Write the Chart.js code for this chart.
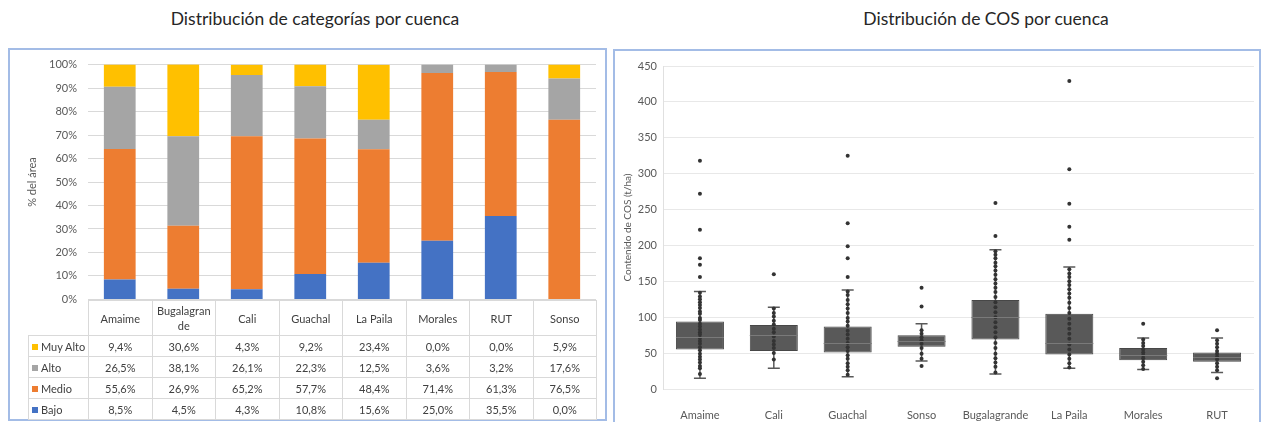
<!DOCTYPE html>
<html>
<head>
<meta charset="utf-8">
<script src="https://cdn.jsdelivr.net/npm/chart.js@4/dist/chart.umd.min.js"></script>
<style>
  body { margin: 0; width: 1262px; height: 422px; background: #fff; position: relative; overflow: hidden; font-family: Lato, sans-serif; }
  .title { position: absolute; top: 8px; width: 420px; text-align: center; font-size: 17.5px; color: #262626; }
  .panel { position: absolute; border: 2px solid #a3bce6; box-sizing: border-box; }
  .wrap { position: absolute; }
  #tabla { position: absolute; left: 28px; top: 300px; border-collapse: collapse; table-layout: fixed; font-size: 11px; color: #404040; }
  #tabla td { border: 1px solid #d9d9d9; text-align: center; padding: 0; height: 20px; }
  #tabla tr.head td { height: 34px; line-height: 15px; overflow-wrap: anywhere; }
  #tabla td.blank { border: none; }
  #tabla td.serie { text-align: left; padding-left: 3px; white-space: nowrap; }
  .sq { display: inline-block; width: 6px; height: 6px; margin-right: 3px; vertical-align: 1px; }
</style>
</head>
<body>
<div class="title" style="left:105px">Distribución de categorías por cuenca</div>
<div class="title" style="left:776px">Distribución de COS por cuenca</div>

<div class="panel" style="left:8px;top:48px;width:599px;height:373px"></div>
<div class="panel" style="left:613px;top:49px;width:648px;height:390px"></div>

<div class="wrap" style="left:11px;top:47px;width:594px;height:270px"><canvas id="catChart"></canvas></div>
<table id="tabla"></table>

<div class="wrap" style="left:615px;top:51px;width:644px;height:371px"><canvas id="cosChart"></canvas></div>

<script>
// --- Distribución de categorías (% del área) ---
const cuencasCat = ['Amaime', 'Bugalagrande', 'Cali', 'Guachal', 'La Paila', 'Morales', 'RUT', 'Sonso'];
const muyAlto = [9.4, 30.6, 4.3, 9.2, 23.4, 0.0, 0.0, 5.9];
const alto    = [26.5, 38.1, 26.1, 22.3, 12.5, 3.6, 3.2, 17.6];
const medio   = [55.6, 26.9, 65.2, 57.7, 48.4, 71.4, 61.3, 76.5];
const bajo    = [8.5, 4.5, 4.3, 10.8, 15.6, 25.0, 35.5, 0.0];
const pctTicks = [0, 10, 20, 30, 40, 50, 60, 70, 80, 90, 100];

// --- Distribución de COS (t/ha) ---
const cuencasCos = ['Amaime', 'Cali', 'Guachal', 'Sonso', 'Bugalagrande', 'La Paila', 'Morales', 'RUT'];
const q1        = [55, 53, 51, 59, 69, 48, 40, 38];
const q3        = [94, 89, 87, 75, 124, 105, 57, 51];
const mediana   = [72, 75, 64, 67, 100, 64, 48, 44];
const bigoteMin = [15, 29, 17, 39, 21, 29, 27, 23];
const bigoteMax = [136, 114, 138, 91, 194, 170, 71, 71];

// puntos individuales (atípicos + puntos internos)
const puntosAmaime = [318, 272, 222, 182, 173, 156, 134, 129, 125, 121, 117, 113, 108, 105, 99, 96, 91, 87, 83, 79, 76, 71, 67, 63, 58, 54, 49, 45, 41, 37, 32, 29, 21];
const puntosCali = [160, 112, 106, 101, 95, 90, 84, 79, 73, 67, 62, 57, 50, 41];
const puntosGuachal = [325, 231, 199, 182, 156, 136, 131, 124, 118, 112, 106, 99, 94, 88, 81, 76, 70, 64, 58, 53, 47, 42, 36, 31, 26, 20];
const puntosSonso = [141, 115, 82, 77, 72, 68, 63, 57, 49, 42, 32];
const puntosBugalagrande = [259, 213, 192, 187, 182, 176, 171, 165, 159, 153, 147, 141, 135, 128, 121, 114, 107, 100, 93, 86, 79, 72, 64, 57, 49, 43, 37, 31, 23];
const puntosLaPaila = [429, 306, 258, 226, 208, 167, 161, 156, 150, 145, 139, 133, 127, 120, 113, 106, 98, 91, 84, 77, 70, 62, 55, 48, 42, 36, 30];
const puntosMorales = [91, 69, 64, 60, 55, 51, 47, 43, 38, 33, 28];
const puntosRUT = [82, 68, 63, 58, 53, 49, 45, 41, 36, 31, 26, 15];
const cosTicks = [0, 50, 100, 150, 200, 250, 300, 350, 400, 450];

const colores = { muyAlto: '#ffc000', alto: '#a5a5a5', medio: '#ed7d31', bajo: '#4472c4' };
const tickColor = '#595959';

Chart.defaults.font.family = "Lato, sans-serif";
Chart.defaults.color = tickColor;

new Chart(document.getElementById('catChart'), {
  type: 'bar',
  data: {
    labels: cuencasCat,
    datasets: [
      { label: 'Bajo', data: bajo, backgroundColor: colores.bajo },
      { label: 'Medio', data: medio, backgroundColor: colores.medio },
      { label: 'Alto', data: alto, backgroundColor: colores.alto },
      { label: 'Muy Alto', data: muyAlto, backgroundColor: colores.muyAlto }
    ]
  },
  options: {
    responsive: true,
    maintainAspectRatio: false,
    animation: false,
    layout: { padding: { top: 7, right: 9, bottom: 5, left: 0 } },
    datasets: { bar: { categoryPercentage: 1, barPercentage: 0.5 } },
    plugins: { legend: { display: false }, tooltip: { enabled: false } },
    scales: {
      x: { stacked: true, display: false },
      y: {
        stacked: true,
        min: 0, max: 100,
        afterFit: s => { s.width = 77; },
        afterBuildTicks: s => { s.ticks = pctTicks.map(v => ({ value: v })); },
        grid: { color: '#d9d9d9', drawTicks: false },
        border: { display: false },
        ticks: { padding: 11, font: { size: 11 }, callback: v => v + '%' },
        title: { display: true, text: '% del área', font: { size: 11 }, padding: { top: 15 } }
      }
    }
  }
});

// data table below the stacked bars
const fmt = v => v.toFixed(1).replace('.', ',') + '%';
const filas = [
  ['Muy Alto', colores.muyAlto, muyAlto],
  ['Alto', colores.alto, alto],
  ['Medio', colores.medio, medio],
  ['Bajo', colores.bajo, bajo]
];
let html = '<colgroup><col style="width:60px">' + cuencasCat.map(() => '<col style="width:63.5px">').join('') + '</colgroup>';
html += '<tr class="head"><td class="blank"></td>' +
  cuencasCat.map(c => '<td>' + (c === 'Bugalagrande' ? 'Bugalagran<wbr>de' : c) + '</td>').join('') + '</tr>';
filas.forEach(([nombre, color, vals]) => {
  html += '<tr><td class="serie"><span class="sq" style="background:' + color + '"></span>' + nombre + '</td>' +
    vals.map(v => '<td>' + fmt(v) + '</td>').join('') + '</tr>';
});
document.getElementById('tabla').innerHTML = html;

// box plot: box as floating bar, whiskers + median through the scales
const todosPuntos = [puntosAmaime, puntosCali, puntosGuachal, puntosSonso, puntosBugalagrande, puntosLaPaila, puntosMorales, puntosRUT];
const puntosData = [];
todosPuntos.forEach((arr, i) => arr.forEach(v => puntosData.push({ x: cuencasCos[i], y: v })));

const bigotes = {
  id: 'bigotes',
  beforeDatasetsDraw(chart) {
    const { ctx, scales: { x, y } } = chart;
    ctx.save();
    ctx.strokeStyle = '#595959';
    ctx.lineWidth = 1.5;
    cuencasCos.forEach((c, i) => {
      const px = x.getPixelForValue(i);
      const yMin = y.getPixelForValue(bigoteMin[i]);
      const yMax = y.getPixelForValue(bigoteMax[i]);
      ctx.beginPath();
      ctx.moveTo(px, yMin); ctx.lineTo(px, yMax);
      ctx.moveTo(px - 6, yMin); ctx.lineTo(px + 6, yMin);
      ctx.moveTo(px - 6, yMax); ctx.lineTo(px + 6, yMax);
      ctx.stroke();
    });
    ctx.restore();
  },
  afterDatasetsDraw(chart) {
    const { ctx, scales: { x, y } } = chart;
    const meta = chart.getDatasetMeta(0);
    ctx.save();
    ctx.strokeStyle = '#7a7a7a';
    ctx.lineWidth = 1;
    meta.data.forEach((bar, i) => {
      const py = Math.round(y.getPixelForValue(mediana[i])) + 0.5;
      ctx.beginPath();
      ctx.moveTo(bar.x - bar.width / 2, py);
      ctx.lineTo(bar.x + bar.width / 2, py);
      ctx.stroke();
    });
    ctx.restore();
  }
};

new Chart(document.getElementById('cosChart'), {
  type: 'bar',
  data: {
    labels: cuencasCos,
    datasets: [
      {
        label: 'Caja',
        data: q1.map((v, i) => [v, q3[i]]),
        backgroundColor: '#595959',
        borderColor: '#474747',
        borderWidth: 1,
        borderSkipped: false,
        categoryPercentage: 1,
        barPercentage: 0.65,
        order: 2
      },
      {
        type: 'scatter',
        label: 'Puntos',
        data: puntosData,
        pointRadius: 2,
        pointBackgroundColor: '#333333',
        pointBorderWidth: 0,
        order: 1
      }
    ]
  },
  options: {
    responsive: true,
    maintainAspectRatio: false,
    animation: false,
    layout: { padding: { top: 15, right: 5, bottom: 0, left: 0 } },
    plugins: { legend: { display: false }, tooltip: { enabled: false } },
    scales: {
      x: {
        type: 'category',
        afterFit: s => { s.height = 33; },
        grid: { display: false },
        border: { display: false },
        ticks: { padding: 12, font: { size: 11 }, maxRotation: 0, autoSkip: false }
      },
      y: {
        min: 0, max: 450,
        afterFit: s => { s.width = 48; },
        afterBuildTicks: s => { s.ticks = cosTicks.map(v => ({ value: v })); },
        grid: { color: '#e8e8e8', drawTicks: false },
        border: { display: true, color: '#e0e0e0' },
        ticks: { padding: 6, font: { size: 11 } },
        title: { display: true, text: 'Contenido de COS (t/ha)', font: { size: 10 }, padding: { top: 7 } }
      }
    }
  },
  plugins: [bigotes]
});
</script>
</body>
</html>
